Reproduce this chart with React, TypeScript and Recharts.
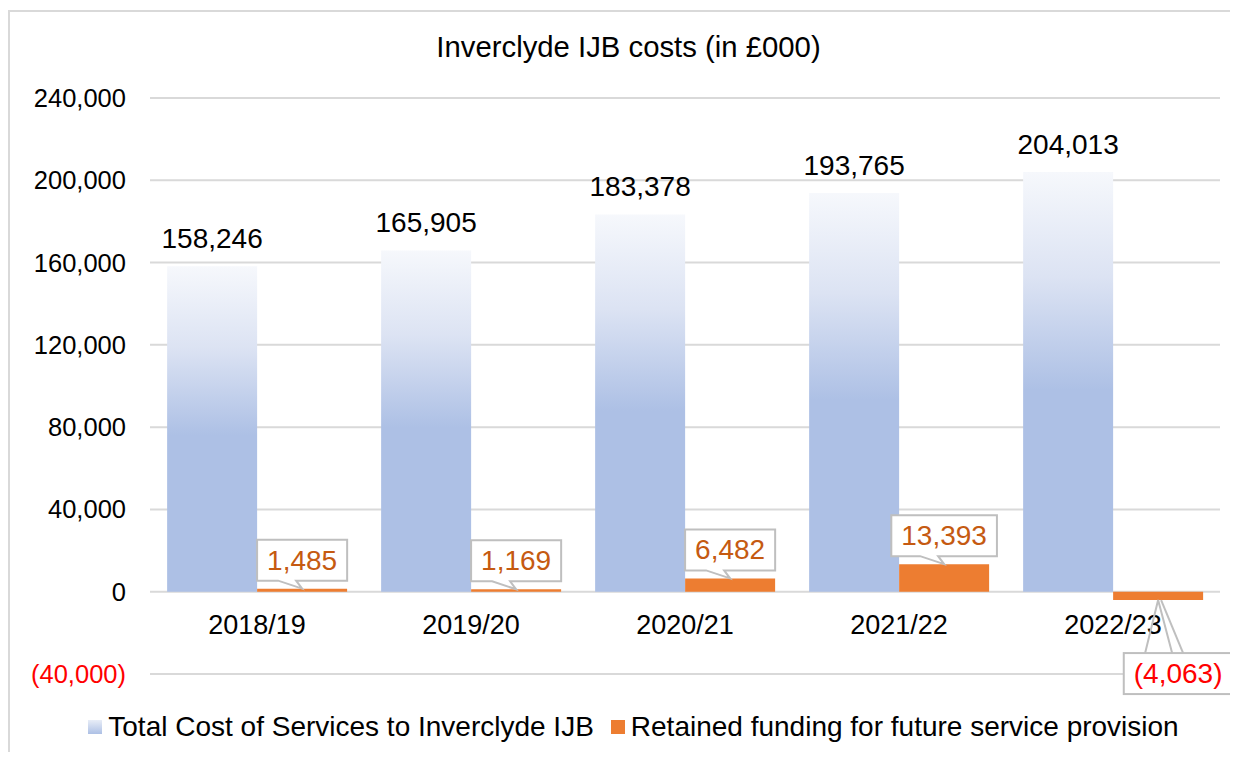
import React from 'react';
import { ComposedChart, Bar, XAxis, YAxis, CartesianGrid, LabelList, Legend } from 'recharts';

const categories = ['2018/19', '2019/20', '2020/21', '2021/22', '2022/23'];
const totalCost = [158246, 165905, 183378, 193765, 204013];
const retained = [1485, 1169, 6482, 13393, -4063];
const yTicks = [-40000, 0, 40000, 80000, 120000, 160000, 200000, 240000];

const seriesNames = {
  total: 'Total Cost of Services to Inverclyde IJB',
  retained: 'Retained funding for future service provision',
};

const data = categories.map((c, i) => ({ name: c, total: totalCost[i], retained: retained[i] }));

const FONT = '"Liberation Sans", Arial, sans-serif';
const BLUE = '#adc0e5';
const ORANGE = '#ed7d31';

const fmt = (v: number) => Math.abs(v).toLocaleString('en-US');
const fmtNeg = (v: number) => (v < 0 ? `(${fmt(v)})` : fmt(v));

const charW = (s: string, size: number) => {
  let w = 0;
  for (const ch of s) {
    if (ch >= '0' && ch <= '9') w += 0.556;
    else if (ch === ',') w += 0.278;
    else if (ch === '(' || ch === ')') w += 0.333;
    else w += 0.5;
  }
  return w * size;
};

const YTick = (props: any) => {
  const { x, y, payload } = props;
  const v = payload.value as number;
  return (
    <text x={x} y={y} textAnchor="end" dominantBaseline="central" fontSize={25.5} fontFamily={FONT} fill={v < 0 ? '#ff0000' : '#000'}>
      {fmtNeg(v)}
    </text>
  );
};

const XTick = (props: any) => {
  const { x, y, payload } = props;
  return (
    <text x={x} y={y - 49} textAnchor="middle" dominantBaseline="central" fontSize={27} fontFamily={FONT} fill="#000">
      {payload.value}
    </text>
  );
};

const Callout = (props: any) => {
  const { x, y, width, height, value } = props;
  const v = Number(value);
  const top = Math.min(y, y + height);
  const bottom = Math.max(y, y + height);
  const cx = x + width / 2;
  const text = fmtNeg(v);
  const fs = 28;
  const bw = charW(text, fs) + 20;
  const bh = 41;
  if (v >= 0) {
    const bBottom = top - 8;
    const bTop = bBottom - bh;
    const left = cx - bw / 2;
    const right = cx + bw / 2;
    const d = `M${left},${bTop} H${right} V${bBottom} H${cx - 6} L${cx},${top} L${cx - 24},${bBottom} H${left} Z`;
    return (
      <g>
        <path d={d} fill="#fff" stroke="#bfbfbf" strokeWidth={2} />
        <text x={cx} y={(bTop + bBottom) / 2} textAnchor="middle" dominantBaseline="central" fontSize={fs} fontFamily={FONT} fill="#c55a11">
          {text}
        </text>
      </g>
    );
  }
  const bTop = bottom + 53;
  const bCx = cx + 20;
  const left = bCx - bw / 2;
  return (
    <g>
      <path d={`M${cx - 13},${bTop} L${cx},${bottom} L${cx + 14},${bTop}`} fill="none" stroke="#bfbfbf" strokeWidth={2} />
      <path d={`M${cx + 3},${bottom} L${cx + 25},${bTop}`} fill="none" stroke="#bfbfbf" strokeWidth={2} />
      <rect x={left} y={bTop} width={bw} height={bh} fill="#fff" stroke="#bfbfbf" strokeWidth={2} />
      <text x={bCx} y={bTop + bh / 2} textAnchor="middle" dominantBaseline="central" fontSize={fs} fontFamily={FONT} fill="#ff0000">
        {text}
      </text>
    </g>
  );
};

const LegendContent = () => (
  <div style={{ display: 'flex', justifyContent: 'center', alignItems: 'center', fontFamily: FONT, fontSize: 28, lineHeight: '30px', color: '#000', whiteSpace: 'nowrap', paddingLeft: 19, boxSizing: 'border-box' }}>
    <span style={{ display: 'inline-block', width: 14, height: 14, background: `linear-gradient(#e8edf7, ${BLUE})`, marginRight: 6 }} />
    <span style={{ marginRight: 17 }}>{seriesNames.total}</span>
    <span style={{ display: 'inline-block', width: 14, height: 14, background: ORANGE, marginRight: 6 }} />
    <span>{seriesNames.retained}</span>
  </div>
);

export default function App() {
  return (
    <div style={{ position: 'relative', width: 1230, height: 744, overflow: 'hidden' }}>
      <div style={{ position: 'absolute', left: 0, top: 2, width: 1300, height: 800, border: '2px solid #d9d9d9', boxSizing: 'border-box' }} />
      <div style={{ position: 'absolute', left: 2, top: 4, width: 1228, height: 736 }}>
        <div style={{ position: 'absolute', left: 0, top: 20, width: 1228, paddingLeft: 9, boxSizing: 'border-box', textAlign: 'center', fontFamily: FONT, fontSize: 29.3, lineHeight: '30px', color: '#000' }}>
          Inverclyde IJB costs (in £000)
        </div>
        <ComposedChart
          width={1228}
          height={736}
          data={data}
          margin={{ top: 86, right: 18, bottom: 44, left: 40 }}
          barCategoryGap="8%"
          barGap={0}
        >
          <defs>
            <linearGradient id="blueGrad" x1="0" y1="0" x2="0" y2="1">
              <stop offset="0" stopColor="#f6f8fc" />
              <stop offset="0.25" stopColor="#dce3f3" />
              <stop offset="0.52" stopColor={BLUE} />
              <stop offset="1" stopColor={BLUE} />
            </linearGradient>
          </defs>
          <CartesianGrid vertical={false} stroke="#d9d9d9" strokeWidth={2} />
          <XAxis dataKey="name" height={30} axisLine={false} tickLine={false} tickSize={0} tickMargin={0} tick={<XTick />} interval={0} />
          <YAxis
            width={100}
            domain={[-40000, 240000]}
            ticks={yTicks}
            axisLine={false}
            tickLine={false}
            tickSize={0}
            tickMargin={24}
            tick={<YTick />}
            interval={0}
          />
          <Legend verticalAlign="middle" align="center" layout="horizontal" content={<LegendContent />} wrapperStyle={{ top: 700, left: 0, width: 1228 }} />
          <Bar dataKey="total" name={seriesNames.total} fill="url(#blueGrad)" isAnimationActive={false}>
            <LabelList dataKey="total" position="top" offset={18} formatter={(v: any) => fmt(Number(v))} fill="#000" fontSize={28} fontFamily={FONT} />
          </Bar>
          <Bar dataKey="retained" name={seriesNames.retained} fill={ORANGE} isAnimationActive={false}>
            <LabelList dataKey="retained" content={<Callout />} />
          </Bar>
        </ComposedChart>
      </div>
    </div>
  );
}
